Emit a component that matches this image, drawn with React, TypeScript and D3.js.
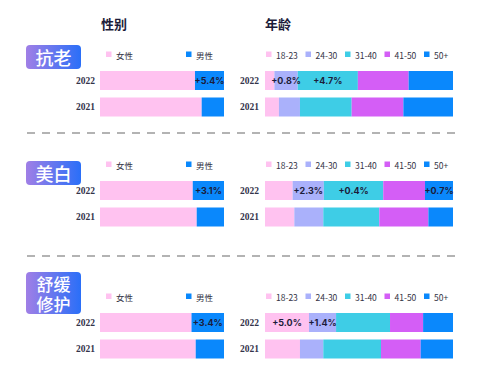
import React from "react";
import { scaleLinear, scaleBand, scalePoint, stack } from "d3";

const categories = [["抗老"], ["美白"], ["舒缓", "修护"]];
const years = ["2022", "2021"];
const genderKeys = ["女性", "男性"];
const ageKeys = ["18-23", "24-30", "31-40", "41-50", "50+"];

// share per category, per year (2022, 2021)
const genderByCategory = [
  [[76.6, 23.4], [82.0, 18.0]],
  [[74.8, 25.2], [78.0, 22.0]],
  [[73.8, 26.2], [77.2, 22.8]],
];
const ageByCategory = [
  [[5.0, 12.4, 32.0, 27.0, 23.6], [7.4, 11.2, 27.5, 27.5, 26.4]],
  [[14.7, 16.6, 31.6, 22.2, 14.9], [15.6, 15.4, 29.8, 26.1, 13.1]],
  [[23.4, 14.4, 28.7, 17.6, 15.9], [18.6, 12.4, 30.7, 21.1, 17.2]],
];
// change labels shown on the 2022 bar
const genderLabels = [
  [null, "+5.4%"],
  [null, "+3.1%"],
  [null, "+3.4%"],
];
const ageLabels = [
  [null, "+0.8%", "+4.7%", null, null],
  [null, "+2.3%", "+0.4%", null, "+0.7%"],
  ["+5.0%", "+1.4%", null, null, null],
];

const genderColors = ["#ffc2f0", "#0a88fc"];
const ageColors = ["#ffc2f0", "#aab1fb", "#3ecde6", "#d45ef6", "#0a88fc"];

const W = 480;
const H = 372;
const legendTops = [54, 164, 296];
const badgeTops = [45, 161, 272];
const dividers = [133, 256];

const genderX = scaleLinear().domain([0, 100]).range([100, 224]);
const ageX = scaleLinear().domain([0, 100]).range([265, 453]);

const cjk = "'Noto Sans CJK SC', 'Noto Sans', sans-serif";
const dark = "#1c1c3a";

function stacked(rows: number[][], keys: string[]) {
  const table = rows.map((r, i) => {
    const o: any = { year: years[i] };
    keys.forEach((k, j) => (o[k] = r[j]));
    return o;
  });
  return stack<any>().keys(keys)(table);
}

function BarGroup({ rows, keys, colors, labels, x, y, yearRight }: any) {
  const series = stacked(rows, keys);
  return (
    <g>
      {years.map((yr) => (
        <text
          key={yr}
          x={yearRight}
          y={(y(yr) ?? 0) + y.bandwidth() / 2}
          textAnchor="end"
          dominantBaseline="central"
          fontFamily="'Liberation Serif', serif"
          fontWeight={700}
          fontSize={9.5}
          fill="#33334a"
        >
          {yr}
        </text>
      ))}
      {series.map((s, si) =>
        s.map((d: any, yi: number) => (
          <rect
            key={si + "-" + yi}
            x={x(d[0])}
            y={y(years[yi])}
            width={x(d[1]) - x(d[0])}
            height={y.bandwidth()}
            fill={colors[si]}
          />
        ))
      )}
      {series.map((s, si) => {
        const lab = labels[si];
        if (!lab) return null;
        const d: any = s[0];
        return (
          <text
            key={"l" + si}
            x={(x(d[0]) + x(d[1])) / 2}
            y={(y(years[0]) ?? 0) + y.bandwidth() / 2}
            textAnchor="middle"
            dominantBaseline="central"
            fontFamily="Inter, 'Open Sans', sans-serif"
            fontWeight={700}
            fontSize={9}
            fill={dark}
          >
            {lab}
          </text>
        );
      })}
    </g>
  );
}

function Legend({ keys, colors, xs, y }: any) {
  return (
    <g>
      {keys.map((k: string, i: number) => (
        <g key={k} transform={`translate(${xs(k)},${y})`}>
          <rect x={0} y={-2.5} width={5.5} height={5.5} fill={colors[i]} />
          <text
            x={10}
            y={0.5}
            dominantBaseline="central"
            fontFamily={cjk}
            fontSize={8.5}
            fill="#333344"
          >
            {k}
          </text>
        </g>
      ))}
    </g>
  );
}

export default function App() {
  const genderLegendX = scalePoint().domain(genderKeys).range([106, 186]);
  const ageLegendX = scalePoint().domain(ageKeys).range([266, 424]);
  return (
    <svg
      width={W}
      height={H}
      viewBox={`0 0 ${W} ${H}`}
      style={{ position: "absolute", left: 0, top: 0, background: "#fff" }}
    >
      <defs>
        <linearGradient id="badge" x1="0" x2="1" y1="0" y2="0">
          <stop offset="0%" stopColor="#a07fe6" />
          <stop offset="100%" stopColor="#2a6ff8" />
        </linearGradient>
      </defs>
      <text x={101} y={23} dominantBaseline="central" fontFamily={cjk} fontWeight={700} fontSize={13} fill={dark}>
        性别
      </text>
      <text x={265} y={23} dominantBaseline="central" fontFamily={cjk} fontWeight={700} fontSize={13} fill={dark}>
        年龄
      </text>
      {dividers.map((dy) => (
        <line key={dy} x1={27} x2={462} y1={dy} y2={dy} stroke="#9a9a9a" strokeWidth={1.6} strokeDasharray="8 7" />
      ))}
      {categories.map((lines, ci) => {
        const top = legendTops[ci];
        const y = scaleBand().domain(years).range([top + 17, top + 17 + 45.5]).paddingInner(0.283);
        const bh = lines.length === 1 ? 24 : 42;
        const lineGap = 19.5;
        return (
          <g key={ci}>
            <rect x={26} y={badgeTops[ci]} width={55} height={bh} rx={4} fill="url(#badge)" />
            <text
              x={53.5}
              y={badgeTops[ci] + bh / 2 - ((lines.length - 1) / 2) * lineGap}
              textAnchor="middle"
              dominantBaseline="central"
              fontFamily={cjk}
              fontWeight={500}
              fontSize={lines.length === 1 ? 18 : 17}
              fill="#fff"
            >
              {lines.map((t, li) => (
                <tspan key={li} x={53.5} dy={li === 0 ? 0 : lineGap}>
                  {t}
                </tspan>
              ))}
            </text>
            <Legend keys={genderKeys} colors={genderColors} xs={genderLegendX} y={top} />
            <Legend keys={ageKeys} colors={ageColors} xs={ageLegendX} y={top} />
            <BarGroup
              rows={genderByCategory[ci]}
              keys={genderKeys}
              colors={genderColors}
              labels={genderLabels[ci]}
              x={genderX}
              y={y}
              yearRight={95}
            />
            <BarGroup
              rows={ageByCategory[ci]}
              keys={ageKeys}
              colors={ageColors}
              labels={ageLabels[ci]}
              x={ageX}
              y={y}
              yearRight={259}
            />
          </g>
        );
      })}
    </svg>
  );
}
